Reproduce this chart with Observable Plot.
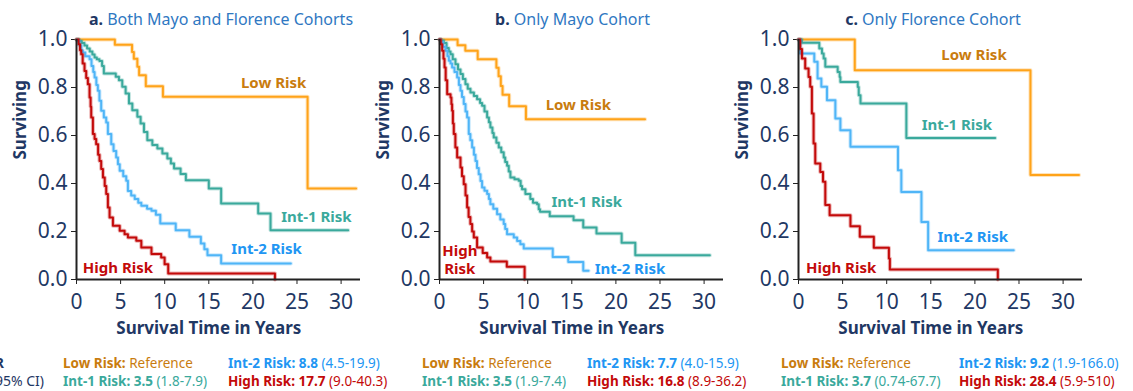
<!DOCTYPE html>
<html>
<head>
<meta charset="utf-8">
<script src="https://cdn.jsdelivr.net/npm/d3@7"></script>
<script src="https://cdn.jsdelivr.net/npm/@observablehq/plot@0.6"></script>
<style>
  html, body { margin: 0; padding: 0; background: #ffffff; }
  body { width: 1133px; height: 391px; overflow: hidden; position: relative; font-family: "Noto Sans", sans-serif; }
  .panel { position: absolute; top: 0; }
  .title { position: absolute; top: 7px; font-size: 16px; color: #2f78c2; white-space: nowrap; transform: translateX(-50%); line-height: 24px; }
  .title b { color: #1f3864; }
  .leg { position: absolute; font-size: 13.5px; white-space: nowrap; line-height: 18px; }
  .leg b { font-weight: 700; }
  .side { position: absolute; font-size: 14px; color: #1f3864; white-space: nowrap; line-height: 18px; transform: translateX(-100%); }
</style>
</head>
<body>
<script>
// ---------------- DATA ----------------
const groups = ["Low Risk", "Int-1 Risk", "Int-2 Risk", "High Risk"];
const xTicks = [0, 5, 10, 15, 20, 25, 30];
const yTicks = [0, 0.2, 0.4, 0.6, 0.8, 1.0];
const panelTitles = [["a.", "Both Mayo and Florence Cohorts"], ["b.", "Only Mayo Cohort"], ["c.", "Only Florence Cohort"]];

// Kaplan-Meier curves: [years, surviving]
const aLow = [[0,1],[4.35,0.978],[6.3,0.948],[6.5,0.92],[6.9,0.886],[7.1,0.851],[7.86,0.805],[9.8,0.761],[26.2,0.379],[31.7,0.379]];
const aInt1 = [[0,1],[0.3,0.994],[0.6,0.985],[0.9,0.975],[1.2,0.962],[1.5,0.95],[1.8,0.937],[2.05,0.925],[2.3,0.918],[2.6,0.91],[2.9,0.89],[3.1,0.858],[4.45,0.845],[4.81,0.83],[5.19,0.803],[5.57,0.775],[5.95,0.733],[6.33,0.705],[6.9,0.678],[7.27,0.65],[7.65,0.615],[8.03,0.58],[8.6,0.56],[9.17,0.546],[9.74,0.525],[10.3,0.504],[10.7,0.483],[11.06,0.462],[11.8,0.44],[12.4,0.414],[15.0,0.379],[16.4,0.317],[20.6,0.275],[22.0,0.205],[30.8,0.205]];
const aInt2 = [[0,1],[0.15,0.994],[0.35,0.975],[0.55,0.955],[0.72,0.946],[1.0,0.93],[1.48,0.918],[1.7,0.89],[1.9,0.865],[2.05,0.842],[2.25,0.81],[2.42,0.786],[2.6,0.745],[2.8,0.703],[3.1,0.675],[3.37,0.654],[3.56,0.606],[3.94,0.564],[4.2,0.535],[4.5,0.508],[4.7,0.48],[4.9,0.453],[5.3,0.43],[5.64,0.411],[5.83,0.369],[6.2,0.35],[6.6,0.335],[7.0,0.32],[7.35,0.307],[8.0,0.295],[8.5,0.286],[9.0,0.27],[9.5,0.233],[11.25,0.205],[12.8,0.178],[14.1,0.15],[14.5,0.126],[14.85,0.101],[16.4,0.067],[24.3,0.067]];
const aHigh = [[0,1],[0.23,0.98],[0.4,0.955],[0.53,0.939],[0.7,0.9],[0.91,0.869],[1.1,0.84],[1.29,0.814],[1.48,0.758],[1.6,0.72],[1.67,0.675],[1.86,0.606],[2.05,0.585],[2.23,0.564],[2.45,0.52],[2.61,0.494],[2.8,0.46],[3.0,0.425],[3.2,0.39],[3.37,0.356],[3.56,0.30],[3.75,0.258],[4.13,0.224],[4.9,0.203],[5.45,0.189],[5.83,0.175],[6.78,0.161],[7.35,0.133],[8.5,0.106],[9.6,0.092],[9.99,0.064],[10.4,0.025],[22.5,0.025],[22.5,0]];

const bLow = [[0,1],[2.05,0.976],[2.93,0.953],[4.33,0.918],[6.45,0.882],[6.7,0.847],[6.95,0.806],[7.15,0.77],[7.9,0.722],[9.8,0.668],[23.3,0.668]];
const bInt1 = [[0,1],[0.2,0.996],[0.49,0.985],[0.8,0.965],[1.05,0.95],[1.25,0.939],[1.5,0.918],[1.81,0.897],[2.1,0.875],[2.38,0.856],[2.65,0.835],[2.94,0.814],[3.2,0.795],[3.51,0.779],[3.9,0.765],[4.26,0.751],[4.6,0.735],[4.83,0.724],[5.1,0.7],[5.4,0.675],[5.6,0.655],[5.77,0.633],[6.0,0.61],[6.15,0.592],[6.45,0.57],[6.72,0.55],[7.0,0.53],[7.28,0.508],[7.45,0.49],[7.66,0.474],[7.85,0.45],[8.04,0.425],[8.5,0.418],[8.98,0.411],[9.2,0.39],[9.36,0.376],[9.74,0.356],[10.3,0.335],[10.6,0.32],[11.06,0.314],[11.25,0.293],[11.4,0.282],[12.5,0.264],[15.2,0.247],[16.3,0.217],[17.8,0.192],[20.65,0.153],[22.2,0.101],[30.65,0.101]];
const bInt2 = [[0,1],[0.15,0.99],[0.4,0.97],[0.68,0.953],[0.9,0.93],[1.06,0.911],[1.25,0.9],[1.43,0.883],[1.7,0.865],[2.0,0.842],[2.2,0.81],[2.38,0.786],[2.55,0.76],[2.75,0.731],[2.95,0.7],[3.13,0.675],[3.32,0.606],[3.5,0.58],[3.7,0.55],[3.9,0.52],[4.08,0.494],[4.25,0.465],[4.45,0.439],[4.65,0.41],[4.83,0.383],[5.1,0.37],[5.4,0.356],[5.6,0.335],[5.77,0.314],[6.1,0.295],[6.53,0.272],[6.9,0.25],[7.28,0.231],[7.45,0.21],[7.66,0.189],[8.42,0.175],[8.8,0.16],[9.17,0.147],[9.55,0.129],[12.84,0.094],[14.6,0.073],[16.3,0.036],[16.9,0.036]];
const bHigh = [[0,1],[0.15,0.98],[0.3,0.953],[0.45,0.92],[0.57,0.883],[0.7,0.83],[0.87,0.772],[1.25,0.758],[1.35,0.73],[1.43,0.703],[1.52,0.65],[1.62,0.606],[1.8,0.55],[2.0,0.508],[2.38,0.467],[2.55,0.43],[2.75,0.397],[2.95,0.35],[3.13,0.30],[3.3,0.26],[3.5,0.231],[3.7,0.2],[3.89,0.175],[4.26,0.133],[4.9,0.11],[5.4,0.092],[5.77,0.075],[7.63,0.053],[9.65,0.053],[9.65,0]];

const cLow = [[0,1],[6.38,0.872],[26.3,0.435],[31.8,0.435]];
const cInt1 = [[0,1],[0.38,0.986],[2.36,0.962],[2.66,0.942],[2.85,0.921],[3.04,0.886],[4.44,0.865],[4.67,0.844],[4.75,0.823],[6.72,0.802],[6.83,0.768],[7.03,0.733],[12.23,0.59],[22.3,0.59]];
const cInt2 = [[0,1],[0.19,0.942],[1.79,0.907],[2.16,0.837],[2.59,0.803],[3.23,0.747],[4.18,0.671],[4.75,0.622],[5.89,0.553],[11.28,0.455],[11.66,0.365],[13.94,0.24],[14.7,0.122],[24.4,0.122]];
const cHigh = [[0,1],[0.19,0.96],[0.39,0.921],[0.76,0.879],[1.14,0.844],[1.33,0.803],[1.52,0.692],[1.71,0.567],[1.9,0.483],[2.47,0.448],[2.78,0.407],[3.04,0.31],[3.53,0.268],[5.89,0.222],[6.95,0.178],[8.54,0.132],[10.25,0.0875],[10.36,0.042],[22.6,0.042],[22.6,0]];

// Hazard ratios (95% CI) per panel, in group order
const hrA = ["Reference", "3.5", "8.8", "17.7"];
const ciA = ["", "1.8-7.9", "4.5-19.9", "9.0-40.3"];
const hrB = ["Reference", "3.5", "7.7", "16.8"];
const ciB = ["", "1.9-7.4", "4.0-15.9", "8.9-36.2"];
const hrC = ["Reference", "3.7", "9.2", "28.4"];
const ciC = ["", "0.74-67.7", "1.9-166.0", "5.9-510"];

// Curve label annotations (data coordinates)
const aNotes = [{g:"Low Risk", x:22.35, y:0.823, t:"Low Risk"}, {g:"Int-1 Risk", x:27.2, y:0.264, t:"Int-1 Risk"}, {g:"Int-2 Risk", x:21.55, y:0.129, t:"Int-2 Risk"}, {g:"High Risk", x:4.7, y:0.053, t:"High Risk"}];
const bNotes = [{g:"Low Risk", x:15.74, y:0.73, t:"Low Risk"}, {g:"Int-1 Risk", x:16.7, y:0.326, t:"Int-1 Risk"}, {g:"Int-2 Risk", x:21.6, y:0.048, t:"Int-2 Risk"}, {g:"High Risk", x:2.3, y:0.084, t:"High\nRisk"}];
const cNotes = [{g:"Low Risk", x:19.9, y:0.9375, t:"Low Risk"}, {g:"Int-1 Risk", x:17.96, y:0.647, t:"Int-1 Risk"}, {g:"Int-2 Risk", x:19.75, y:0.18, t:"Int-2 Risk"}, {g:"High Risk", x:4.83, y:0.052, t:"High Risk"}];

// ---------------- STYLE ----------------
const navy = "#1f3864";
const lineColor = {"Low Risk":"#ffa319", "Int-1 Risk":"#3aa99c", "Int-2 Risk":"#4fb5f7", "High Risk":"#c30a0a"};
const textColor = {"Low Risk":"#c97c0e", "Int-1 Risk":"#3aa99c", "Int-2 Risk":"#2196f3", "High Risk":"#c30a0a"};
const FONT = "'Noto Sans', sans-serif";

const panels = [
  {left: 6, curves: [aLow, aInt1, aInt2, aHigh], notes: aNotes, hr: hrA, ci: ciA, titleX: 221, legX: [63, 228]},
  {left: 369.3, curves: [bLow, bInt1, bInt2, bHigh], notes: bNotes, hr: hrB, ci: ciB, titleX: 572.5, legX: [422, 587]},
  {left: 728.3, curves: [cLow, cInt1, cInt2, cHigh], notes: cNotes, hr: hrC, ci: ciC, titleX: 933, legX: [781, 959]}
];

panels.forEach((p, i) => {
  const rows = [];
  p.curves.forEach((c, k) => c.forEach(([t, s]) => rows.push({g: groups[k], t, s})));
  const lineMarks = [];
  groups.forEach(g => {
    const d = rows.filter(r => r.g === g);
    lineMarks.push(Plot.line(d, {x: "t", y: "s", curve: "step-after", stroke: lineColor[g], strokeWidth: 4, strokeOpacity: 0.3}));
    lineMarks.push(Plot.line(d, {x: "t", y: "s", curve: "step-after", stroke: lineColor[g], strokeWidth: 2}));
  });
  const chart = Plot.plot({
    width: 364, height: 345,
    marginLeft: 70, marginRight: 10, marginTop: 39, marginBottom: 66,
    x: {domain: [0, 32.2]},
    y: {domain: [0, 1]},
    style: {fontFamily: FONT, color: navy, background: "transparent", overflow: "visible"},
    marks: [
      Plot.axisY({ticks: yTicks, tickFormat: d3.format(".1f"), tickSize: 5, tickPadding: 4, fontSize: 21, label: null, stroke: "#222"}),
      Plot.axisX({ticks: xTicks, tickSize: 5, tickPadding: 10, fontSize: 21, label: null, stroke: "#222"}),
      ...lineMarks,
      Plot.ruleX([0], {stroke: "#222", strokeWidth: 2}),
      Plot.ruleY([0], {stroke: "#222", strokeWidth: 2}),
      Plot.text(p.notes, {x: "x", y: "y", text: "t", fill: d => textColor[d.g], fontWeight: "bold", fontSize: 15, lineHeight: 1.2}),
      Plot.text(["Surviving"], {frameAnchor: "left", dx: -56, rotate: -90, fontWeight: "bold", fontSize: 17, fill: navy}),
      Plot.text(["Survival Time in Years"], {x: () => 15, frameAnchor: "bottom", dy: 54, fontWeight: "bold", fontSize: 17, fill: navy})
    ]
  });
  const holder = document.createElement("div");
  holder.className = "panel";
  holder.style.left = p.left + "px";
  holder.appendChild(chart);
  document.body.appendChild(holder);

  const title = document.createElement("div");
  title.className = "title";
  title.style.left = p.titleX + "px";
  title.innerHTML = `<b>${panelTitles[i][0]}</b> ${panelTitles[i][1]}`;
  document.body.appendChild(title);

  // legend (2x2)
  const cells = [[0, 0, 0], [1, 0, 1], [2, 1, 0], [3, 1, 1]]; // group index, column, row
  cells.forEach(([k, col, row]) => {
    const el = document.createElement("div");
    el.className = "leg";
    el.style.left = p.legX[col] + "px";
    el.style.top = (354 + row * 18) + "px";
    el.style.color = textColor[groups[k]];
    el.innerHTML = k === 0
      ? `<b>${groups[k]}:</b> ${p.hr[k]}`
      : `<b>${groups[k]}: ${p.hr[k]}</b> (${p.ci[k]})`;
    document.body.appendChild(el);
  });
});

// side caption at far left (cut by the page edge, as in the reference)
const s1 = document.createElement("div"); s1.className = "side"; s1.style.left = "4px"; s1.style.top = "354px"; s1.innerHTML = "<b>HR</b>"; document.body.appendChild(s1);
const s2 = document.createElement("div"); s2.className = "side"; s2.style.left = "44px"; s2.style.top = "372px"; s2.textContent = "(95% CI)"; document.body.appendChild(s2);
</script>
</body>
</html>
